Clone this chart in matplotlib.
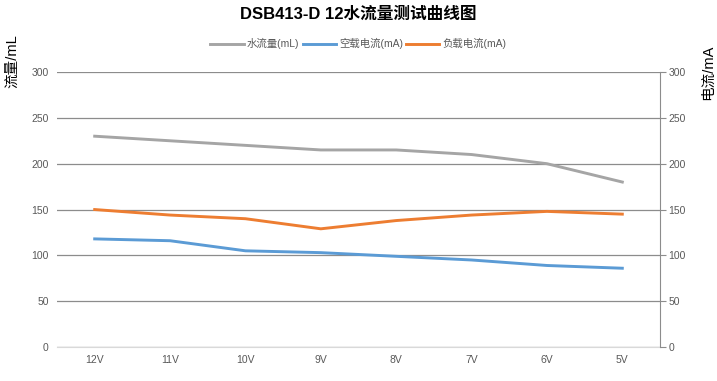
import matplotlib
matplotlib.use('Agg')
import matplotlib.pyplot as plt

plt.rcParams['font.family'] = ['Liberation Sans', 'Noto Sans CJK SC', 'DejaVu Sans']

voltages = ['12V', '11V', '10V', '9V', '8V', '7V', '6V', '5V']
flow = [230, 225, 220, 215, 215, 210, 200, 180]
idle_current = [118, 116, 105, 103, 99, 95, 89, 86]
load_current = [150, 144, 140, 129, 138, 144, 148, 145]

fig = plt.figure(figsize=(7.17, 3.81), dpi=100)
ax = fig.add_axes([0.0795, 0.089, 0.841, 0.722])
x = range(len(voltages))

ax.plot(x, flow, color='#A5A5A5', lw=2.1, label='水流量(mL)')
ax.plot(x, idle_current, color='#5B9BD5', lw=2.1, label='空载电流(mA)')
ax.plot(x, load_current, color='#ED7D31', lw=2.1, label='负载电流(mA)')

ax.set_xlim(-0.5, len(voltages) - 0.5)
ax.set_ylim(0, 300)
ax.set_yticks(range(0, 301, 50))
ax.set_xticks(list(x))
ax.set_xticklabels(voltages)
ax.grid(axis='y', color='#8c8c8c', lw=0.9)
ax.set_axisbelow(True)
for s in ['top', 'left', 'right']:
    ax.spines[s].set_visible(False)
ax.spines['bottom'].set_color('#d9d9d9')
ax.tick_params(axis='both', length=0, labelsize=7.5, colors='#595959', pad=6)

ax2 = ax.twinx()
ax2.set_ylim(0, 300)
ax2.set_yticks(range(0, 301, 50))
for s in ['top', 'left', 'bottom']:
    ax2.spines[s].set_visible(False)
ax2.spines['right'].set_color('#8c8c8c')
ax2.tick_params(axis='y', length=4, color='#8c8c8c', labelsize=7.5, labelcolor='#595959', pad=2)

fig.text(0.5, 0.962, 'DSB413-D 12水流量测试曲线图', ha='center', va='center',
         fontsize=12, fontweight='bold')
fig.text(0.017, 0.84, '流量/mL', rotation=90, ha='center', va='center', fontsize=10.5)
fig.text(0.987, 0.81, '电流/mA', rotation=90, ha='center', va='center', fontsize=10.5)

fig.legend(loc='center', bbox_to_anchor=(0.5, 0.885), ncol=3, frameon=False,
           fontsize=7.5, handlelength=3.2, handletextpad=0.3, columnspacing=0.3,
           labelcolor='#595959')

fig.savefig('out.png', dpi=100)
